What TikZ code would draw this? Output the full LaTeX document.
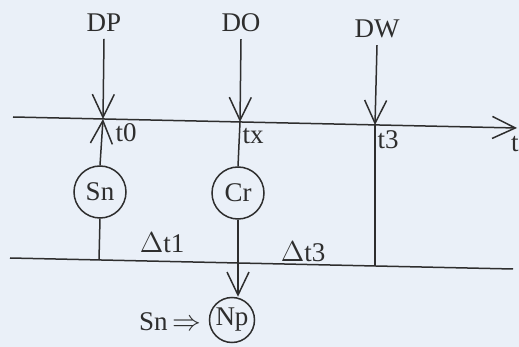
\documentclass[tikz,border=0pt]{standalone}
\usepackage{fontspec}
\setmainfont{Liberation Serif}
\usetikzlibrary{arrows.meta}
\definecolor{bg}{HTML}{EAF0F8}
\definecolor{ink}{HTML}{2E2E2E}
\begin{document}
\begin{tikzpicture}[x=0.5pt,y=-0.5pt,
  every node/.style={font=\fontsize{13.5}{15}\selectfont, text=ink},
  ln/.style={draw=ink, line width=0.75pt},
  arr/.style={ln, -{Straight Barb[length=11.5pt,width=11pt,line width=0.75pt]}},
  elem/.style={circle, draw=ink, line width=0.75pt, inner sep=0pt, minimum size=26pt}]
\fill[bg] (0,0) rectangle (519,347);
\useasboundingbox (0,0) rectangle (519,347);
% axes
\coordinate (axL) at (13,117);
\coordinate (axR) at (517,128);
\coordinate (lowL) at (10,258);
\coordinate (lowR) at (513,269);
\coordinate (p0) at (103,119);
\coordinate (px) at (240,122);
\coordinate (p3) at (375,125);
\coordinate (q1) at (99,260);
\coordinate (q3) at (375,266);
\draw[arr] (axL) -- (axR);
\draw[ln] (lowL) -- (lowR);
% labels on top
\node (DP) at (104,23) {DP};
\node (DO) at (241,23) {DO};
\node (DW) at (377,29) {DW};
\node (t0) at (126,133) {t0};
\node (tx) at (253,136) {tx};
\node (t3) at (388,140) {t3};
\node[anchor=east, inner sep=0pt] (t) at (519,144) {t};
\node (d1) at (162,243) {$\Delta$t1};
\node (d3) at (303,252) {$\Delta$t3};
% elements
\node[elem] (Sn) at (100,192) {Sn};
\node[elem] (Cr) at (238,193) {Cr};
\node[elem, minimum size=22.5pt] (Np) at (232,320) {Np};
\node[anchor=east] (SnL) at (208,322) {Sn\,$\Rightarrow$};
% connectors
\draw[arr] (DP.south) -- (p0);
\draw[arr] (Sn.north) -- (p0);
\draw[ln] (Sn.south) -- (q1);
\draw[arr] (DO.south) -- (px);
\draw[ln] (px) -- (Cr.north);
\draw[arr] (Cr.south) -- (Cr.south |- Np.north);
\draw[arr] (DW.south) -- (p3);
\draw[ln] (p3) -- (q3);
\end{tikzpicture}
\end{document}
